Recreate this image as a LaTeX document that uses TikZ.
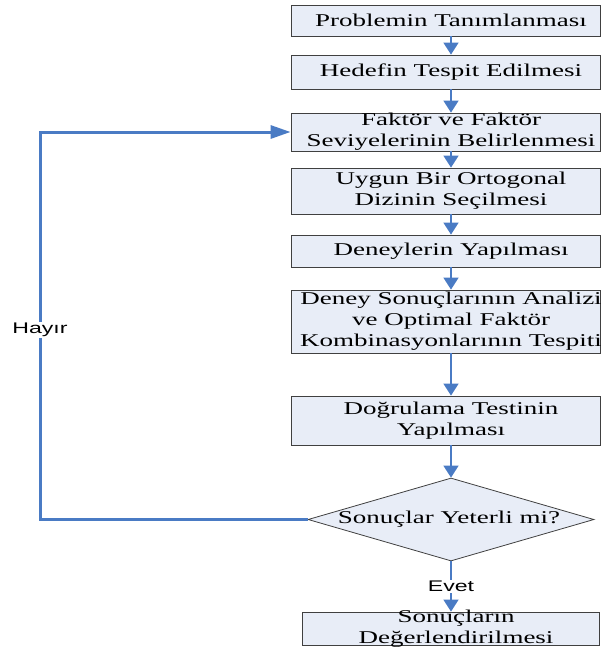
\documentclass[tikz,border=0pt]{standalone}
\usepackage{fontspec}
\setmainfont[FakeStretch=1.5]{Liberation Serif}
\newfontfamily\lblfont[FakeStretch=1.5]{Liberation Sans}
\usetikzlibrary{shapes.geometric,arrows.meta}
\definecolor{boxfill}{HTML}{E8EDF7}
\definecolor{flow}{HTML}{4A7BC4}
\definecolor{edgegray}{HTML}{404040}
\begin{document}
\begin{tikzpicture}[x=1pt,y=-1pt,
  lbl/.style={align=center, inner sep=0pt, font=\fontsize{18}{21}\selectfont},
  box/.style={draw=edgegray, line width=0.8pt, fill=boxfill, rectangle,
    minimum width=309pt, inner sep=0pt,
    label={[lbl, xshift=5.5pt]center:{#1}}},
  flowline/.style={draw=flow, line width=1.5pt, -{Triangle[length=12pt,width=15pt]}},
  loopline/.style={draw=flow, line width=3pt, line join=miter, -{Triangle[length=20pt,width=13pt]}},
  tag/.style={fill=white, inner sep=1pt, font=\lblfont\fontsize{15.4}{18}\selectfont}]
\useasboundingbox (0,0) rectangle (600,648);
\coordinate (ax) at (451,0);
\coordinate (lx) at (40,330);
\node[box={Problemin Tanımlanması}, minimum height=31pt] (b1) at (445.5,20.5) {};
\node[box={Hedefin Tespit Edilmesi}, minimum height=34pt] (b2) at (445.5,72) {};
\node[box={Faktör ve Faktör\\Seviyelerinin Belirlenmesi}, minimum height=38pt] (b3) at (445.5,132) {};
\node[box={Uygun Bir Ortogonal\\Dizinin Seçilmesi}, minimum height=46pt] (b4) at (445.5,191) {};
\node[box={Deneylerin Yapılması}, minimum height=32pt] (b5) at (445.5,251) {};
\node[box={Deney Sonuçlarının Analizi\\ve Optimal Faktör\\Kombinasyonlarının Tespiti}, minimum height=63pt] (b6) at (445.5,321.5) {};
\node[box={Doğrulama Testinin\\Yapılması}, minimum height=49pt] (b7) at (445.5,420.5) {};
\node[diamond, draw=edgegray, line width=0.8pt, fill=boxfill, inner sep=0pt,
  minimum width=286pt, minimum height=83pt,
  label={[lbl, xshift=-2pt]center:Sonuçlar Yeterli mi?}] (d) at (451,519.5) {};
\node[box={Sonuçların\\Değerlendirilmesi}, minimum width=297pt, minimum height=33pt,
  label={[lbl, xshift=-0.5pt]center:{}}] (b8) at (450.5,628.5) {};
\draw[flowline] (b1.south -| ax) -- (b2.north -| ax);
\draw[flowline] (b2.south -| ax) -- (b3.north -| ax);
\draw[flowline] (b3.south -| ax) -- (b4.north -| ax);
\draw[flowline] (b4.south -| ax) -- (b5.north -| ax);
\draw[flowline] (b5.south -| ax) -- (b6.north -| ax);
\draw[flowline] (b6.south -| ax) -- (b7.north -| ax);
\draw[flowline] (b7.south -| ax) -- (d.north);
\draw[flowline] (d.south) -- node[tag] {Evet} (b8.north -| ax);
\draw[loopline] (d.west) -- (d.west -| lx) -- node[tag, pos=0.489] {Hayır} (b3.west -| lx) -- (b3.west);
\end{tikzpicture}
\end{document}
